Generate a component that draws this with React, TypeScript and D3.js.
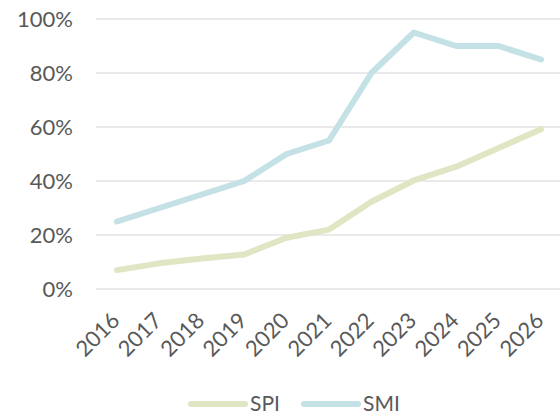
import * as d3 from "d3";

const years = ["2016", "2017", "2018", "2019", "2020", "2021", "2022", "2023", "2024", "2025", "2026"];
const spi = [7, 9.5, 11.3, 12.8, 19, 22, 32.3, 40.2, 45.3, 52.2, 59.2];
const smi = [25, 30, 35, 40, 50, 55, 80, 95, 90, 90, 85];
const yTicks = [0, 20, 40, 60, 80, 100];

const series = [
  { name: "SPI", values: spi, color: "#e0e6c3" },
  { name: "SMI", values: smi, color: "#c4e1e6" },
];

const W = 560;
const H = 416;
const FONT = "Lato, 'Open Sans', sans-serif";
const TEXT = "#595959";

export default function App() {
  const x = d3.scalePoint<string>().domain(years).range([117, 541]);
  const y = d3.scaleLinear().domain([0, 100]).range([289, 19]);
  const line = d3
    .line<number>()
    .x((_d, i) => x(years[i]) as number)
    .y((d) => y(d));

  return (
    <svg
      width={W}
      height={H}
      style={{ position: "fixed", left: 0, top: 0, background: "#fff" }}
      fontFamily={FONT}
    >
      {/* grid + y labels */}
      {yTicks.map((t) => (
        <g key={t}>
          <line x1={96} x2={560} y1={y(t)} y2={y(t)} stroke="#e3e3e3" strokeWidth={1.3} />
          <text x={73} y={y(t)} dy="0.36em" textAnchor="end" fontSize={22} fill={TEXT}>
            {t}%
          </text>
        </g>
      ))}

      {/* x labels, rotated */}
      {years.map((yr) => {
        const cx = (x(yr) as number) + 4;
        const cy = 322;
        return (
          <text
            key={yr}
            x={cx}
            y={cy}
            textAnchor="end"
            fontSize={22}
            fill={TEXT}
            transform={`rotate(-45 ${cx} ${cy})`}
          >
            {yr}
          </text>
        );
      })}

      {/* lines */}
      {series.map((s) => (
        <path
          key={s.name}
          d={line(s.values) as string}
          fill="none"
          stroke={s.color}
          strokeWidth={6}
          strokeLinejoin="round"
          strokeLinecap="round"
        />
      ))}

      {/* legend */}
      {series.map((s, i) => {
        const lx = 191 + i * 113;
        return (
          <g key={s.name}>
            <line x1={lx} x2={lx + 54} y1={404} y2={404} stroke={s.color} strokeWidth={6} strokeLinecap="round" />
            <text x={lx + 59} y={411} fontSize={21} fill={TEXT}>
              {s.name}
            </text>
          </g>
        );
      })}
    </svg>
  );
}
